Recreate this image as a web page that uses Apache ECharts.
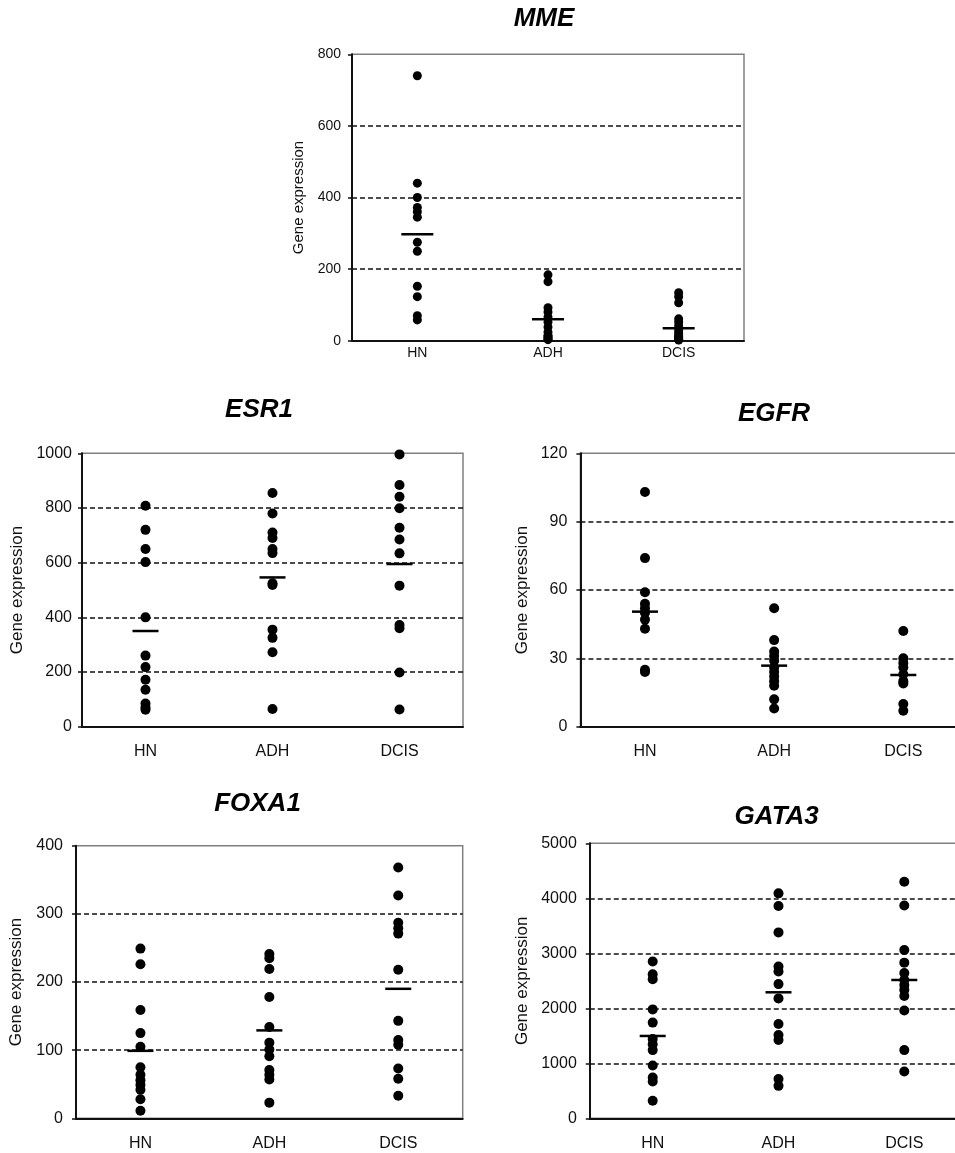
<!DOCTYPE html>
<html>
<head>
<meta charset="utf-8">
<script src="https://cdn.jsdelivr.net/npm/echarts@6/dist/echarts.min.js"></script>
<style>
html,body{margin:0;padding:0;background:#fff;}
#chart{width:955px;height:1153px;}
</style>
</head>
<body>
<div id="chart"></div>
<script>
// ---------- data ----------
const categories = ['HN', 'ADH', 'DCIS'];

const mmeHN   = [740, 440, 400, 372, 360, 345, 275, 250, 152, 123, 70, 58];
const mmeADH  = [184, 165, 92, 80, 66, 52, 38, 24, 15, 11, 8, 5, 3];
const mmeDCIS = [134, 123, 106, 61, 52, 42, 28, 20, 14, 10, 8, 5, 3, 2];
const mmeMean = [297, 60, 35];
const mmeTicks = [0, 200, 400, 600, 800];

const esr1HN   = [808, 720, 650, 602, 400, 260, 218, 172, 135, 85, 70, 62];
const esr1ADH  = [855, 780, 710, 690, 650, 635, 525, 518, 355, 325, 272, 65];
const esr1DCIS = [996, 884, 841, 799, 728, 685, 634, 516, 372, 360, 198, 63];
const esr1Mean = [350, 546, 595];
const esr1Ticks = [0, 200, 400, 600, 800, 1000];

const egfrHN   = [103, 74, 59, 54, 52, 50, 47, 43, 25, 24];
const egfrADH  = [52, 38, 33, 31, 29, 26, 24, 22, 20, 18, 12, 8];
const egfrDCIS = [42, 30, 28, 26, 23, 20, 19, 10, 7];
const egfrMean = [50.5, 26.8, 22.7];
const egfrTicks = [0, 30, 60, 90, 120];

const foxa1HN   = [249, 226, 159, 125, 105, 75, 64, 56, 49, 42, 28, 11];
const foxa1ADH  = [241, 235, 219, 178, 134, 111, 101, 91, 71, 64, 57, 23];
const foxa1DCIS = [368, 327, 287, 279, 271, 218, 143, 115, 108, 73, 58, 33];
const foxa1Mean = [99, 129, 190];
const foxa1Ticks = [0, 100, 200, 300, 400];

const gata3HN   = [2850, 2620, 2530, 1980, 1740, 1440, 1345, 1240, 960, 740, 670, 320];
const gata3ADH  = [4090, 3860, 3380, 2760, 2670, 2440, 2180, 1715, 1515, 1425, 715, 590];
const gata3DCIS = [4300, 3870, 3060, 2830, 2640, 2515, 2425, 2335, 2225, 1960, 1240, 850];
const gata3Mean = [1497, 2291, 2515];
const gata3Ticks = [0, 1000, 2000, 3000, 4000, 5000];

const panelTitles = ['MME', 'ESR1', 'EGFR', 'FOXA1', 'GATA3'];
const yName = 'Gene expression';

// ---------- layout ----------
const FONT = '"Liberation Sans", Arial, sans-serif';
const INK = '#111';
const panels = [
  { title: panelTitles[0], groups: [mmeHN, mmeADH, mmeDCIS], mean: mmeMean, ticks: mmeTicks,
    grid: { left: 352, top: 54.3, width: 392, height: 286.4 }, titlePos: [544, 19],
    font: 14, nameFont: 15, nameGap: 46, labelMargin: 11, xMargin: 5, dot: 9, meanW: 32 },
  { title: panelTitles[1], groups: [esr1HN, esr1ADH, esr1DCIS], mean: esr1Mean, ticks: esr1Ticks,
    grid: { left: 82, top: 453.3, width: 381, height: 273.4 }, titlePos: [259, 410],
    font: 16, nameFont: 17, nameGap: 56, labelMargin: 10, xMargin: 17, dot: 10, meanW: 26 },
  { title: panelTitles[2], groups: [egfrHN, egfrADH, egfrDCIS], mean: egfrMean, ticks: egfrTicks,
    grid: { left: 580.4, top: 453.3, width: 387.5, height: 273.4 }, titlePos: [774, 414],
    font: 16, nameFont: 17, nameGap: 50, labelMargin: 13, xMargin: 17, dot: 10, meanW: 26 },
  { title: panelTitles[3], groups: [foxa1HN, foxa1ADH, foxa1DCIS], mean: foxa1Mean, ticks: foxa1Ticks,
    grid: { left: 76, top: 845.7, width: 386.7, height: 272.6 }, titlePos: [257.5, 804],
    font: 16, nameFont: 17, nameGap: 51, labelMargin: 13, xMargin: 17, dot: 10, meanW: 26 },
  { title: panelTitles[4], groups: [gata3HN, gata3ADH, gata3DCIS], mean: gata3Mean, ticks: gata3Ticks,
    grid: { left: 589.8, top: 843.3, width: 377.4, height: 275 }, titlePos: [776.7, 817],
    font: 16, nameFont: 17, nameGap: 59, labelMargin: 13, xMargin: 17, dot: 10, meanW: 26 }
];

const option = {
  animation: false,
  backgroundColor: '#ffffff',
  textStyle: { fontFamily: FONT },
  title: [], grid: [], xAxis: [], yAxis: [], series: []
};

panels.forEach((p, i) => {
  option.title.push({
    text: p.title, left: p.titlePos[0], top: p.titlePos[1], padding: 0,
    textAlign: 'center', textVerticalAlign: 'middle',
    textStyle: { fontFamily: FONT, fontSize: 26, fontWeight: 'bold', fontStyle: 'italic', color: '#000' }
  });
  option.grid.push(Object.assign({ show: true, borderColor: '#808080', borderWidth: 1.5,
    backgroundColor: 'transparent', containLabel: false, outerBoundsMode: 'none' }, p.grid));
  option.xAxis.push({
    type: 'category', gridIndex: i, data: categories, boundaryGap: true,
    axisLine: { lineStyle: { color: INK, width: 2 } },
    axisTick: { show: false },
    axisLabel: { color: INK, fontSize: p.font, fontFamily: FONT, margin: p.xMargin },
    splitLine: { show: false }
  });
  const tk = p.ticks;
  option.yAxis.push({
    type: 'value', gridIndex: i, min: tk[0], max: tk[tk.length - 1], interval: tk[1] - tk[0],
    name: yName, nameLocation: 'middle', nameGap: p.nameGap,
    nameTextStyle: { color: INK, fontSize: p.nameFont, fontFamily: FONT },
    axisLine: { show: true, lineStyle: { color: INK, width: 2 } },
    axisTick: { show: true, length: 4, lineStyle: { color: INK, width: 1.5 } },
    axisLabel: { color: INK, fontSize: p.font, fontFamily: FONT, margin: p.labelMargin,
      formatter: v => String(v) },
    splitLine: { show: true, showMinLine: false, showMaxLine: false,
      lineStyle: { color: '#111', width: 1.5, type: [5, 3] } }
  });
  const pts = [];
  p.groups.forEach((g, ci) => g.forEach(v => pts.push([ci, v])));
  option.series.push({
    type: 'scatter', xAxisIndex: i, yAxisIndex: i, data: pts,
    symbol: 'circle', symbolSize: p.dot, itemStyle: { color: '#000', opacity: 1 }, z: 3
  });
  option.series.push({
    type: 'scatter', xAxisIndex: i, yAxisIndex: i,
    data: p.mean.map((m, ci) => [ci, m]),
    symbol: 'rect', symbolSize: [p.meanW, 2.5], itemStyle: { color: '#000', opacity: 1 }, z: 4
  });
});

const chart = echarts.init(document.getElementById('chart'), null, { renderer: 'canvas' });
chart.setOption(option);
</script>
</body>
</html>
